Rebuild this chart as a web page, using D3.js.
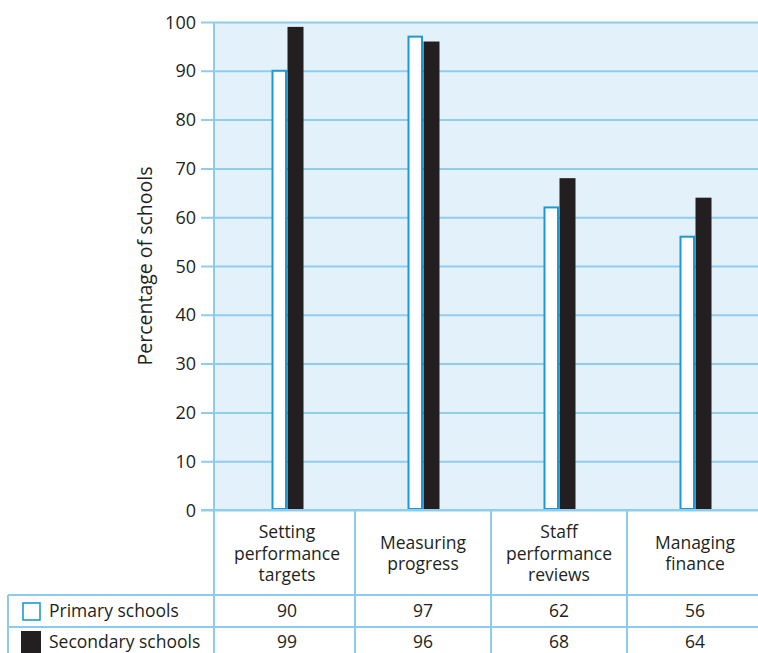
<!DOCTYPE html>
<html>
<head>
<meta charset="utf-8">
<script src="https://cdn.jsdelivr.net/npm/d3@7"></script>
<style>
  html, body { margin: 0; padding: 0; background: #ffffff; }
  svg { display: block; }
  text { font-family: "Open Sans", "Noto Sans", sans-serif; fill: #231f20; }
</style>
</head>
<body>
<svg id="chart" width="758" height="653"></svg>
<script>
const categories = ["Setting performance targets", "Measuring progress", "Staff performance reviews", "Managing finance"];
const categoryLines = [["Setting", "performance", "targets"], ["Measuring", "progress"], ["Staff", "performance", "reviews"], ["Managing", "finance"]];
const seriesNames = ["Primary schools", "Secondary schools"];
const primaryValues = [90, 97, 62, 56];
const secondaryValues = [99, 96, 68, 64];
const yTicks = [0, 10, 20, 30, 40, 50, 60, 70, 80, 90, 100];

const svg = d3.select("#chart");
const W = 758, H = 653;
const plot = { left: 214, right: 758, top: 22, bottom: 510 };
const gridColor = "#8fcdee";
const lineColor = "#8ccbec";
const primaryStroke = "#1d9ad6";
const darkFill = "#231f20";

const x = d3.scaleBand().domain(categories).range([219, 763]);
const y = d3.scaleLinear().domain([0, 100]).range([plot.bottom, plot.top]);
const barW = 15.5;

// plot background
svg.append("rect")
  .attr("x", plot.left).attr("y", plot.top)
  .attr("width", W - plot.left).attr("height", plot.bottom - plot.top)
  .attr("fill", "#e3f1fa");

// y axis with gridlines
const yAxis = d3.axisLeft(y).tickValues(yTicks).tickSize(-(W - plot.left)).tickSizeOuter(0).tickPadding(18);
const gy = svg.append("g").attr("transform", `translate(${plot.left},0)`).call(yAxis);
gy.select(".domain").remove();
gy.selectAll(".tick line")
  .attr("x1", -13).attr("x2", W - plot.left)
  .attr("stroke", gridColor).attr("stroke-width", 2);
gy.selectAll(".tick text")
  .attr("font-size", 18).attr("fill", "#231f20")
  .attr("font-family", "'Open Sans', 'Noto Sans', sans-serif")
  .attr("dy", "0.34em");

// axis title
svg.append("text")
  .attr("transform", `translate(152,${(plot.top + plot.bottom) / 2}) rotate(-90)`)
  .attr("text-anchor", "middle")
  .attr("font-size", 19.5)
  .text("Percentage of schools");

// bars
const bars = svg.append("g");
bars.selectAll("rect.primary")
  .data(categories)
  .join("rect")
  .attr("class", "primary")
  .attr("x", d => x(d) + x.bandwidth() / 2 - barW + 1)
  .attr("y", (d, i) => y(primaryValues[i]))
  .attr("width", barW - 2)
  .attr("height", (d, i) => y(0) - y(primaryValues[i]) - 1)
  .attr("fill", "#ffffff")
  .attr("stroke", primaryStroke)
  .attr("stroke-width", 2);
bars.selectAll("rect.secondary")
  .data(categories)
  .join("rect")
  .attr("class", "secondary")
  .attr("x", d => x(d) + x.bandwidth() / 2 + 0.5)
  .attr("y", (d, i) => y(secondaryValues[i]))
  .attr("width", barW + 0.5)
  .attr("height", (d, i) => y(0) - y(secondaryValues[i]))
  .attr("fill", darkFill);

// table
const rowTop = [plot.bottom, 595, 627, H];
const tbl = svg.append("g");
// horizontal lines
tbl.append("line").attr("x1", plot.left - 13).attr("x2", W).attr("y1", rowTop[0]).attr("y2", rowTop[0])
  .attr("stroke", gridColor).attr("stroke-width", 2);
[rowTop[1], rowTop[2]].forEach(yy => {
  tbl.append("line").attr("x1", 8).attr("x2", W).attr("y1", yy).attr("y2", yy)
    .attr("stroke", lineColor).attr("stroke-width", 2);
});
// vertical lines
tbl.append("line").attr("x1", plot.left).attr("x2", plot.left).attr("y1", plot.top).attr("y2", H)
  .attr("stroke", lineColor).attr("stroke-width", 2);
tbl.append("line").attr("x1", 8).attr("x2", 8).attr("y1", rowTop[1]).attr("y2", H)
  .attr("stroke", lineColor).attr("stroke-width", 2);
categories.slice(1).forEach(c => {
  tbl.append("line").attr("x1", x(c)).attr("x2", x(c)).attr("y1", rowTop[0]).attr("y2", H)
    .attr("stroke", lineColor).attr("stroke-width", 2);
});

// category labels
categories.forEach((c, i) => {
  const lines = categoryLines[i];
  const lh = 21.5;
  const cy = (rowTop[0] + rowTop[1]) / 2 + 1;
  const t = tbl.append("text")
    .attr("text-anchor", "middle")
    .attr("font-size", 17.5);
  lines.forEach((ln, j) => {
    t.append("tspan")
      .attr("x", x(c) + x.bandwidth() / 2)
      .attr("y", cy + (j - (lines.length - 1) / 2) * lh)
      .attr("dy", "0.35em")
      .text(ln);
  });
});

// value rows
[primaryValues, secondaryValues].forEach((vals, r) => {
  const cy = r === 0 ? 611 : 642;
  categories.forEach((c, i) => {
    tbl.append("text")
      .attr("x", x(c) + x.bandwidth() / 2)
      .attr("y", cy)
      .attr("dy", "0.35em")
      .attr("text-anchor", "middle")
      .attr("font-size", 17.5)
      .text(vals[i]);
  });
});

// legend
tbl.append("rect").attr("x", 23).attr("y", 603).attr("width", 17).attr("height", 17)
  .attr("fill", "#ffffff").attr("stroke", primaryStroke).attr("stroke-width", 1.6);
tbl.append("text").attr("x", 49).attr("y", 611).attr("dy", "0.35em").attr("font-size", 17.5).text(seriesNames[0]);
tbl.append("rect").attr("x", 21).attr("y", 631).attr("width", 20).attr("height", 22)
  .attr("fill", darkFill);
tbl.append("text").attr("x", 49).attr("y", 642).attr("dy", "0.35em").attr("font-size", 17.5).text(seriesNames[1]);
</script>
</body>
</html>
